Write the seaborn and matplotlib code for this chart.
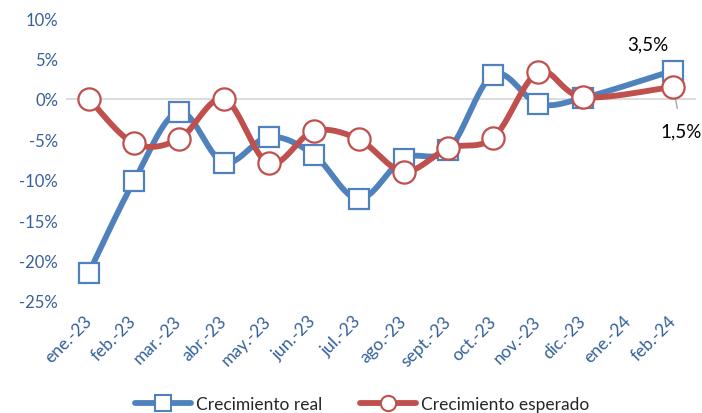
import numpy as np
import pandas as pd
import matplotlib
matplotlib.use("Agg")
import matplotlib.pyplot as plt
from matplotlib.lines import Line2D
from matplotlib.transforms import ScaledTranslation
import seaborn as sns

categories = ["ene.-23", "feb.-23", "mar.-23", "abr.-23", "may.-23", "jun.-23", "jul.-23",
              "ago.-23", "sept.-23", "oct.-23", "nov.-23", "dic.-23", "ene.-24", "feb.-24"]
real = [-21.5, -10.2, -1.6, -7.9, -4.7, -6.9, -12.4, -7.4, -6.3, 3.0, -0.6, 0.1, np.nan, 3.5]
esperado = [0.0, -5.5, -5.0, 0.0, -8.0, -4.0, -5.0, -9.0, -6.1, -4.8, 3.3, 0.2, np.nan, 1.5]
yticks = [-25, -20, -15, -10, -5, 0, 5, 10]

BLUE = "#4F81BD"
RED = "#C0504D"
TICK = "#35609A"

sns.set_theme(style="white")
plt.rcParams["font.family"] = ["Lato", "DejaVu Sans"]


def smooth(xs, ys, n=30):
    # Bezier-style smoothing (like a spreadsheet "smoothed line") through the points
    px, py = [], []
    m = len(xs)
    for i in range(m - 1):
        x0, y0 = (xs[i - 1], ys[i - 1]) if i > 0 else (xs[i], ys[i])
        x1, y1 = xs[i], ys[i]
        x2, y2 = xs[i + 1], ys[i + 1]
        x3, y3 = (xs[i + 2], ys[i + 2]) if i + 2 < m else (xs[i + 1], ys[i + 1])
        c1x, c1y = x1 + (x2 - x0) / 6, y1 + (y2 - y0) / 6
        c2x, c2y = x2 - (x3 - x1) / 6, y2 - (y3 - y1) / 6
        t = np.linspace(0, 1, n)
        bx = (1 - t) ** 3 * x1 + 3 * (1 - t) ** 2 * t * c1x + 3 * (1 - t) * t ** 2 * c2x + t ** 3 * x2
        by = (1 - t) ** 3 * y1 + 3 * (1 - t) ** 2 * t * c1y + 3 * (1 - t) * t ** 2 * c2y + t ** 3 * y2
        px.extend(bx)
        py.extend(by)
    return np.array(px), np.array(py)


fig = plt.figure(figsize=(7.02, 4.14), dpi=100)
ax = fig.add_axes([0.0947, 0.271, 0.8963, 0.683])

ax.axhline(0, color="#D9D9D9", lw=1.3, zorder=1)

for vals, color, marker, ms, label, z in [
    (real, BLUE, "s", 15, "Crecimiento real", 3),
    (esperado, RED, "o", 16, "Crecimiento esperado", 5),
]:
    xs = np.array([i for i, v in enumerate(vals) if not np.isnan(v)], dtype=float)
    ys = np.array([v for v in vals if not np.isnan(v)], dtype=float)
    sx, sy = smooth(xs, ys)
    df = pd.DataFrame({"x": sx, "y": sy})
    sns.lineplot(data=df, x="x", y="y", sort=False, color=color, lw=4.2, ax=ax, zorder=z,
                 solid_capstyle="round")
    ax.plot(xs, ys, ls="none", marker=marker, ms=ms, mfc="white", mec=color, mew=1.6, zorder=z + 1)

ax.set_xlim(-0.5, len(categories) - 0.5)
ax.set_ylim(-25, 10)
ax.set_yticks(yticks)
ax.set_yticklabels([f"{t}%" for t in yticks], color=TICK, fontsize=12)
ax.set_xticks(range(len(categories)))
ax.set_xticklabels(categories, rotation=45, ha="right", va="center", rotation_mode="anchor",
                   color=TICK, fontsize=12.5)
ax.tick_params(axis="y", length=0, pad=6)
ax.tick_params(axis="x", length=0, pad=6)
shift = ScaledTranslation(0 / 100, -9 / 100, fig.dpi_scale_trans)
for lab in ax.get_xticklabels():
    lab.set_transform(lab.get_transform() + shift)
ax.set_xlabel("")
ax.set_ylabel("")
for s in ax.spines.values():
    s.set_visible(False)

# data labels
ax.annotate("3,5%", xy=(13, real[13]), xytext=(-18, 19), textcoords="offset points",
            fontsize=13.5, color="black", ha="center", va="center")
ax.annotate("1,5%", xy=(13, esperado[13]), xytext=(6, -32), textcoords="offset points",
            fontsize=13.5, color="black", ha="center", va="center",
            arrowprops=dict(arrowstyle="-", color="#A6A6A6", lw=1, shrinkA=8, shrinkB=6))

handles = [
    Line2D([], [], color=BLUE, lw=4.2, marker="s", ms=11, mfc="white", mec=BLUE, mew=1.5),
    Line2D([], [], color=RED, lw=4.2, marker="o", ms=11, mfc="white", mec=RED, mew=1.5),
]
fig.legend(handles, ["Crecimiento real", "Crecimiento esperado"], loc="center",
           bbox_to_anchor=(0.516, 0.022), ncol=2, frameon=False, fontsize=12.5,
           handlelength=3.2, columnspacing=2.2, handletextpad=0.3)

fig.savefig("out.png", dpi=100)
